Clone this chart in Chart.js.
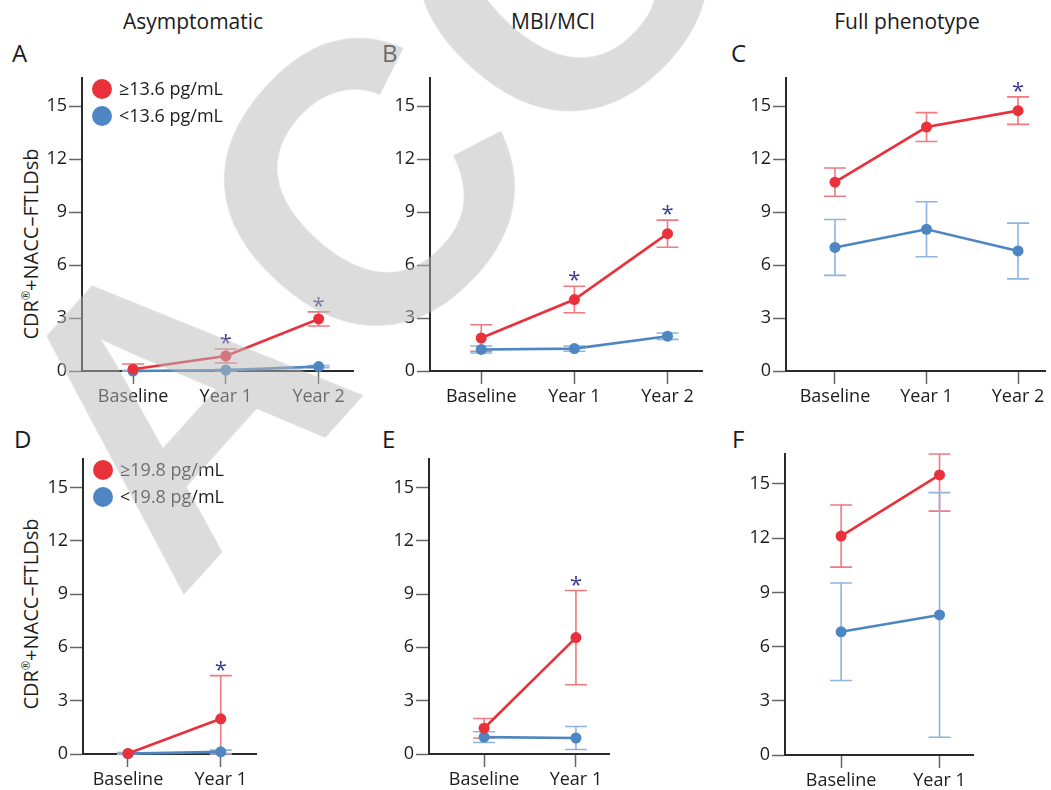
<!DOCTYPE html>
<html>
<head>
<meta charset="utf-8">
<script src="https://cdn.jsdelivr.net/npm/chart.js@4.4.1/dist/chart.umd.min.js"></script>
<style>
  body { margin: 0; background: #fff; font-family: "Open Sans", sans-serif; color: #1c1c1c; }
  #page { position: relative; width: 1051px; height: 790px; overflow: hidden; }
  .panel { position: absolute; }
  .title { position: absolute; font-size: 21px; line-height: 1; white-space: nowrap; transform: translateX(-50%); }
  .letter { position: absolute; font-size: 24px; line-height: 1; }
  .ytitle { position: absolute; font-size: 20px; line-height: 1; white-space: nowrap; transform: translate(-50%, -50%) rotate(-90deg); }
  .ytitle sup { font-size: 11px; vertical-align: 8px; }
  #mark { position: absolute; left: -74px; top: 376px; font-family: "Liberation Sans", sans-serif; font-weight: bold;
          font-size: 400px; line-height: 1; white-space: nowrap; color: rgba(185,185,185,0.5);
          transform-origin: 0 0; transform: rotate(-48deg); pointer-events: none; }
</style>
</head>
<body>
<div id="page">
  <div class="title" style="left:193px; top:11px">Asymptomatic</div>
  <div class="title" style="left:553px; top:11px">MBI/MCI</div>
  <div class="title" style="left:907px; top:11px">Full phenotype</div>

  <div class="letter" style="left:12px; top:41px">A</div>
  <div class="letter" style="left:382px; top:41px">B</div>
  <div class="letter" style="left:731px; top:41px">C</div>
  <div class="letter" style="left:14px; top:427px">D</div>
  <div class="letter" style="left:382px; top:427px">E</div>
  <div class="letter" style="left:732px; top:427px">F</div>

  <div class="ytitle" style="left:30px; top:244px">CDR<sup>®</sup>+NACC–FTLDsb</div>
  <div class="ytitle" style="left:30px; top:614px">CDR<sup>®</sup>+NACC–FTLDsb</div>

  <div class="panel" style="left:0px; top:60px"><canvas id="chartA" width="360" height="350"></canvas></div>
  <div class="panel" style="left:360px; top:60px"><canvas id="chartB" width="350" height="350"></canvas></div>
  <div class="panel" style="left:710px; top:60px"><canvas id="chartC" width="341" height="350"></canvas></div>
  <div class="panel" style="left:0px; top:440px"><canvas id="chartD" width="300" height="350"></canvas></div>
  <div class="panel" style="left:360px; top:440px"><canvas id="chartE" width="300" height="350"></canvas></div>
  <div class="panel" style="left:710px; top:440px"><canvas id="chartF" width="300" height="350"></canvas></div>

  <div id="mark">ACCEPTED</div>
</div>

<script>
// time points
const visits3 = ["Baseline", "Year 1", "Year 2"];
const visits2 = ["Baseline", "Year 1"];
const yTicks = [0, 3, 6, 9, 12, 15];

// legend labels (NfL cut-offs)
const legendTop = ["≥13.6 pg/mL", "<13.6 pg/mL"];
const legendBottom = ["≥19.8 pg/mL", "<19.8 pg/mL"];

// A - asymptomatic, 13.6 cut-off
const aHigh = [0.1, 0.85, 2.95];
const aHighErr = [0.3, 0.4, 0.4];
const aLow = [0.0, 0.05, 0.25];
const aLowErr = [0.04, 0.05, 0.06];
const aStars = [false, true, true];

// B - MBI/MCI
const bHigh = [1.87, 4.05, 7.78];
const bHighErr = [0.75, 0.75, 0.77];
const bLow = [1.22, 1.27, 1.97];
const bLowErr = [0.2, 0.15, 0.18];
const bStars = [false, true, true];

// C - full phenotype
const cHigh = [10.7, 13.82, 14.75];
const cHighErr = [0.8, 0.82, 0.78];
const cLow = [7.0, 8.03, 6.8];
const cLowErr = [1.58, 1.56, 1.58];
const cStars = [false, false, true];

// D - asymptomatic, 19.8 cut-off
const dHigh = [0.03, 1.98];
const dHighErr = [0.05, 2.43];
const dLow = [0.02, 0.12];
const dLowErr = [0.03, 0.1];
const dStars = [false, true];

// E - MBI/MCI
const eHigh = [1.45, 6.55];
const eHighErr = [0.55, 2.65];
const eLow = [0.95, 0.9];
const eLowErr = [0.3, 0.65];
const eStars = [false, true];

// F - full phenotype
const fHigh = [12.12, 15.5];
const fHighErr = [1.72, 2.0];
const fLow = [6.82, 7.75];
const fLowErr = [2.7, 6.77];
const fStars = [false, false];

const RED = "#e8313a";
const BLUE = "#4e86c4";
const RED_ERR = "#f07a80";
const BLUE_ERR = "#8fb4e0";
const FONT = "'Open Sans', sans-serif";

// error bars drawn under the lines, clamped to the axis range
const errorBars = {
    id: "errorBars",
    beforeDatasetsDraw(chart) {
        const ctx = chart.ctx;
        const x = chart.scales.x, y = chart.scales.y;
        ctx.save();
        chart.data.datasets.forEach(function (ds) {
            ctx.strokeStyle = ds.errColor;
            ctx.lineWidth = 1.6;
            ds.data.forEach(function (p, i) {
                const lo = Math.max(y.min, p.y - ds.err[i]);
                const hi = Math.min(y.max, p.y + ds.err[i]);
                const px = x.getPixelForValue(p.x);
                const y1 = y.getPixelForValue(lo), y2 = y.getPixelForValue(hi);
                ctx.beginPath();
                ctx.moveTo(px, y1); ctx.lineTo(px, y2);
                ctx.moveTo(px - 11, y1); ctx.lineTo(px + 11, y1);
                ctx.moveTo(px - 11, y2); ctx.lineTo(px + 11, y2);
                ctx.stroke();
            });
        });
        ctx.restore();
    },
    afterDatasetsDraw(chart) {
        const ctx = chart.ctx;
        const x = chart.scales.x, y = chart.scales.y;
        const ds = chart.data.datasets[0];
        ctx.save();
        ctx.fillStyle = "#3c3c8e";
        ctx.font = "22px " + FONT;
        ctx.textAlign = "center";
        ctx.textBaseline = "alphabetic";
        ds.stars.forEach(function (s, i) {
            if (!s) return;
            const p = ds.data[i];
            const top = y.getPixelForValue(Math.min(y.max, p.y + ds.err[i]));
            ctx.fillText("*", x.getPixelForValue(p.x), top + 1);
        });
        ctx.restore();
    }
};

const legendDots = {
    id: "legendDots",
    afterDraw(chart, args, opts) {
        if (!opts.labels) return;
        const ctx = chart.ctx;
        const area = chart.chartArea;
        ctx.save();
        ctx.font = "18px " + FONT;
        ctx.textBaseline = "middle";
        opts.labels.forEach(function (lab, i) {
            const cy = area.top + 11 + i * 27;
            ctx.fillStyle = i === 0 ? RED : BLUE;
            ctx.beginPath();
            ctx.arc(area.left + 20, cy, 10, 0, Math.PI * 2);
            ctx.fill();
            ctx.fillStyle = "#1c1c1c";
            ctx.fillText(lab, area.left + 37, cy + 1);
        });
        ctx.restore();
    }
};

function pts(vals) {
    return vals.map(function (v, i) { return { x: i, y: v }; });
}

function makeChart(id, cfg) {
    const axisStyle = {
        grid: { drawOnChartArea: false, drawTicks: true, tickLength: 13, tickColor: "#666", tickWidth: 1.5 },
        border: { display: true, color: "#2a2a2a", width: 2 }
    };
    return new Chart(document.getElementById(id), {
        type: "line",
        data: {
            datasets: [
                { data: pts(cfg.high), err: cfg.highErr, stars: cfg.stars, errColor: RED_ERR,
                  borderColor: RED, backgroundColor: RED, borderWidth: 2.6,
                  pointRadius: 5.5, pointBorderWidth: 0, pointBackgroundColor: RED, clip: false },
                { data: pts(cfg.low), err: cfg.lowErr, stars: [], errColor: BLUE_ERR,
                  borderColor: BLUE, backgroundColor: BLUE, borderWidth: 2.6,
                  pointRadius: 5.5, pointBorderWidth: 0, pointBackgroundColor: BLUE, clip: false }
            ]
        },
        options: {
            responsive: false,
            animation: false,
            layout: { padding: { top: cfg.padTop, right: cfg.padRight, left: 0, bottom: 0 } },
            plugins: {
                legend: { display: false },
                tooltip: { enabled: false },
                legendDots: { labels: cfg.legend }
            },
            scales: {
                x: Object.assign({
                    type: "linear",
                    min: cfg.xMin, max: cfg.xMax,
                    afterBuildTicks: function (s) { s.ticks = cfg.visits.map(function (_, i) { return { value: i }; }); },
                    afterFit: function (s) { s.height = cfg.xHeight; },
                    ticks: {
                        autoSkip: false, maxRotation: 0, padding: 2, color: "#1c1c1c",
                        font: { family: FONT, size: 18 },
                        callback: function (v) { return cfg.visits[v]; }
                    }
                }, axisStyle),
                y: Object.assign({
                    min: 0, max: cfg.yMax,
                    afterBuildTicks: function (s) { s.ticks = yTicks.map(function (v) { return { value: v }; }); },
                    afterFit: function (s) { s.width = cfg.yWidth; },
                    ticks: { padding: 2, color: "#1c1c1c", font: { family: FONT, size: 18 } }
                }, axisStyle)
            }
        },
        plugins: [errorBars, legendDots]
    });
}

makeChart("chartA", { high: aHigh, highErr: aHighErr, low: aLow, lowErr: aLowErr, stars: aStars,
    visits: visits3, legend: legendTop, xMin: -0.55, xMax: 2.37, yMax: 16.6,
    yWidth: 82, padTop: 18, padRight: 7, xHeight: 39 });
makeChart("chartB", { high: bHigh, highErr: bHighErr, low: bLow, lowErr: bLowErr, stars: bStars,
    visits: visits3, legend: null, xMin: -0.55, xMax: 2.37, yMax: 16.6,
    yWidth: 70, padTop: 18, padRight: 8, xHeight: 39 });
makeChart("chartC", { high: cHigh, highErr: cHighErr, low: cLow, lowErr: cLowErr, stars: cStars,
    visits: visits3, legend: null, xMin: -0.535, xMax: 2.3, yMax: 16.6,
    yWidth: 76, padTop: 18, padRight: 0, xHeight: 39 });
makeChart("chartD", { high: dHigh, highErr: dHighErr, low: dLow, lowErr: dLowErr, stars: dStars,
    visits: visits2, legend: legendBottom, xMin: -0.485, xMax: 1.38, yMax: 16.6,
    yWidth: 83, padTop: 19, padRight: 44, xHeight: 36 });
makeChart("chartE", { high: eHigh, highErr: eHighErr, low: eLow, lowErr: eLowErr, stars: eStars,
    visits: visits2, legend: null, xMin: -0.6, xMax: 1.36, yMax: 16.6,
    yWidth: 69, padTop: 19, padRight: 51, xHeight: 36 });
makeChart("chartF", { high: fHigh, highErr: fHighErr, low: fLow, lowErr: fLowErr, stars: fStars,
    visits: visits2, legend: null, xMin: -0.57, xMax: 1.34, yMax: 16.66,
    yWidth: 75, padTop: 14, padRight: 37, xHeight: 35 });
</script>
</body>
</html>
